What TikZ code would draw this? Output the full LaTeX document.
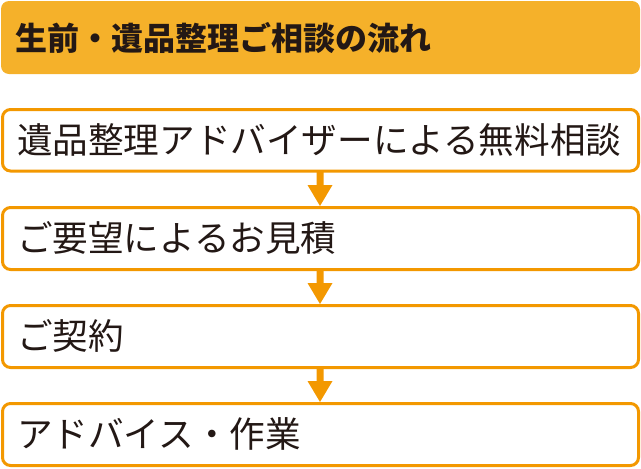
\documentclass[tikz,border=0pt]{standalone}
\usepackage{fontspec}
\newfontfamily\cjk{Noto Sans CJK JP}
\definecolor{titlebg}{HTML}{F5B12A}
\definecolor{frameor}{HTML}{F39800}
\definecolor{ink}{HTML}{231815}
\begin{document}
\begin{tikzpicture}[x=1pt,y=-1pt,
  stepbox/.style={draw=frameor,line width=3pt,rounded corners=8pt,fill=white},
  steptext/.style={anchor=west,inner sep=0pt,text=ink,font=\cjk\fontsize{35.6}{40}\selectfont},
  flowarrow/.style={fill=frameor}]
\useasboundingbox (0,0) rectangle (641,469);
\fill[titlebg,rounded corners=8pt] (1,1) rectangle (640,74);
\node[anchor=west,inner sep=0pt,text=ink,font=\cjk\bfseries\fontsize{32}{36}\selectfont] (title) at (15,38) {生前・遺品整理ご相談の流れ};
% boxes
\draw[stepbox] (2.5,109.5) rectangle (638.5,171);
\draw[stepbox] (2.5,207.5) rectangle (638.5,269.5);
\draw[stepbox] (2.5,305.5) rectangle (638.5,367.5);
\draw[stepbox] (2.5,403.5) rectangle (638.5,465.5);
\node[steptext] (s1) at (17,140) {遺品整理アドバイザーによる無料相談};
\node[steptext] (s2) at (17,238) {ご要望によるお見積};
\node[steptext] (s3) at (17,336) {ご契約};
\node[steptext] (s4) at (17,434) {アドバイス・作業};
% arrows
\foreach \t in {171,269,367}{
  \fill[flowarrow] (316.5,\t+1) -- (323.5,\t+1) -- (323.5,\t+14) -- (332.5,\t+14) -- (320,\t+35) -- (307.5,\t+14) -- (316.5,\t+14) -- cycle;
}
\end{tikzpicture}
\end{document}
